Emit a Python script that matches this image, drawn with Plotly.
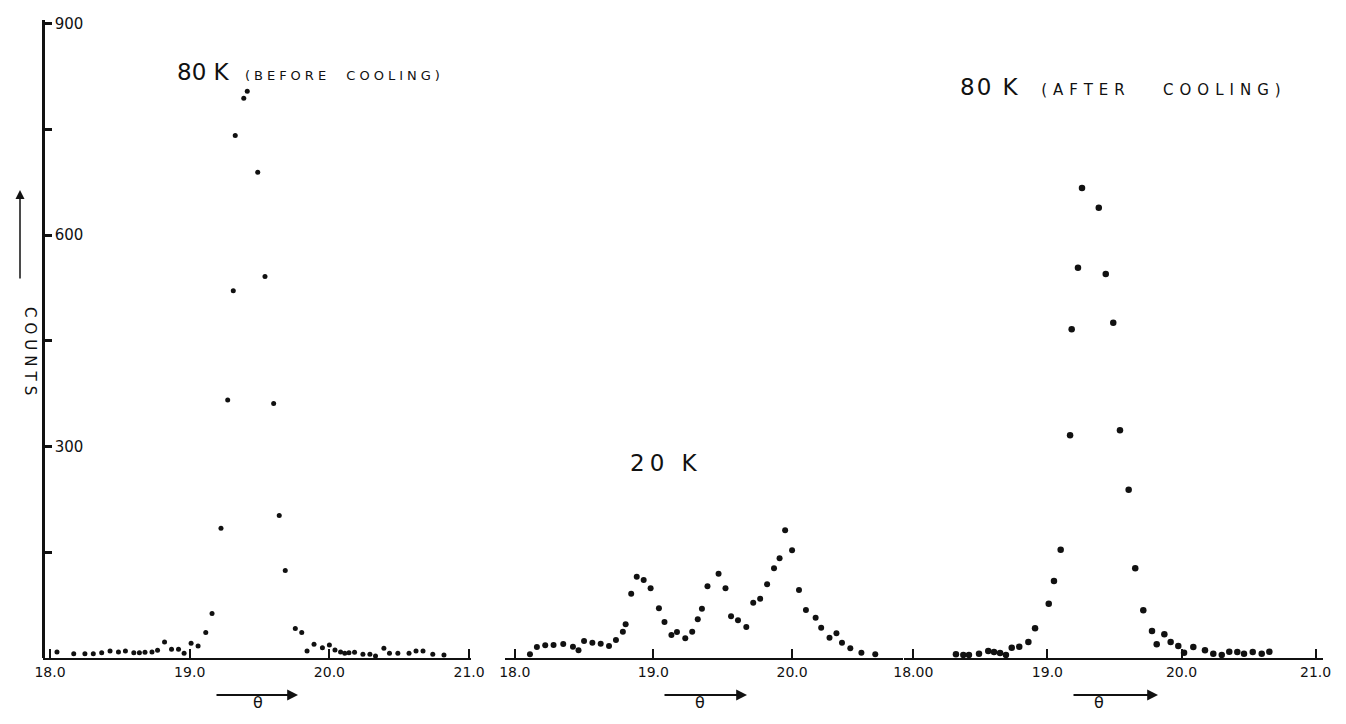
import plotly.graph_objects as go

# ---------------- data ----------------
theta_80k_before = [18.05, 18.17, 18.25, 18.31, 18.37, 18.43, 18.49, 18.54, 18.60, 18.64,
                    18.68, 18.73, 18.77, 18.82, 18.87, 18.92, 18.96, 19.01, 19.06,
                    19.115, 19.16, 19.224, 19.272, 19.312, 19.326, 19.387, 19.412, 19.487,
                    19.539, 19.601, 19.641, 19.684, 19.756, 19.802,
                    19.84, 19.89, 19.95, 20.00, 20.04, 20.08, 20.11, 20.14, 20.18, 20.24,
                    20.29, 20.33, 20.39, 20.43, 20.49, 20.57, 20.62, 20.67, 20.74, 20.82]
counts_80k_before = [8.5, 6.1, 6.1, 6.1, 7.6, 9.9, 8.5, 9.9, 7.6, 7.6,
                     8.0, 8.5, 10.9, 22.7, 12.3, 12.3, 6.6, 20.8, 17.0,
                     36, 63, 184, 366, 521, 741, 794, 804, 689,
                     541, 361, 202, 124, 42, 36,
                     9.9, 19.4, 14.6, 18.4, 11.3, 8.5, 6.6, 7.6, 8.0, 5.2,
                     5.2, 2.8, 13.7, 6.6, 6.6, 6.6, 9.9, 9.9, 5.2, 4.3]

theta_20k = [18.11, 18.16, 18.22, 18.28, 18.35, 18.42, 18.46, 18.50, 18.56, 18.62,
             18.68, 18.73, 18.78, 18.80, 18.84, 18.88, 18.93, 18.98, 19.04, 19.08,
             19.13, 19.17, 19.23, 19.28, 19.32, 19.35, 19.39, 19.47, 19.52, 19.56,
             19.61, 19.67, 19.72, 19.77, 19.82, 19.87, 19.91, 19.95, 20.00, 20.05,
             20.10, 20.17, 20.21, 20.27, 20.32, 20.36, 20.42, 20.50, 20.60]
counts_20k = [5.2, 15.6, 18.0, 18.4, 19.9, 16.1, 10.9, 24.1, 21.7, 20.3,
              17.0, 25.5, 37.4, 47.8, 91.3, 115.4, 110.6, 98.8, 70.4, 51.1,
              32.6, 36.9, 27.9, 37.4, 54.8, 70.0, 101.7, 119.6, 98.8, 59.1,
              53.4, 44.0, 78.5, 84.2, 104.5, 127.2, 141.4, 181.1, 152.7, 96.5,
              68.1, 57.2, 43.0, 28.8, 35.0, 21.7, 13.7, 7.6, 5.2]

theta_80k_after = [18.318, 18.373, 18.415, 18.490, 18.559, 18.602, 18.647, 18.691, 18.734,
                   18.790, 18.858, 18.908, 19.010, 19.049, 19.099, 19.169, 19.181, 19.228,
                   19.258, 19.383, 19.435, 19.491, 19.541, 19.606, 19.655, 19.715, 19.780,
                   19.815, 19.872, 19.919, 19.976, 20.019, 20.088, 20.175, 20.237, 20.300,
                   20.356, 20.416, 20.466, 20.531, 20.598, 20.655]
counts_80k_after = [5.2, 4.3, 4.3, 6.1, 9.9, 8.5, 7.1, 4.3, 14.6,
                    16.0, 22.7, 42.1, 77, 109.2, 153.6, 315.9, 466.2, 553.6,
                    666.7, 638.7, 544.7, 475.6, 323, 238.7, 127.2, 67.7, 38.3,
                    19.4, 33.6, 22.7, 17.0, 7.5, 15.6, 10.9, 6.1, 4.3,
                    8.9, 8.5, 6.1, 8.5, 6.1, 8.9]

y_tick_vals = [150, 300, 450, 600, 750, 900]
y_tick_text = ["", "300", "", "600", "", "900"]
x1_tick_vals = [18, 19, 20, 21]
x1_tick_text = ["18.0", "19.0", "20.0", "21.0"]
x2_tick_vals = [18, 19, 20]
x2_tick_text = ["18.0", "19.0", "20.0"]
x3_tick_vals = [18, 19, 20, 21]
x3_tick_text = ["18.00", "19.0", "20.0", "21.0"]

panel_labels = [
    "80 K<span style='font-size:13px;letter-spacing:4px'>&nbsp;&nbsp;(BEFORE&nbsp; COOLING)</span>",
    "<span style='letter-spacing:5px'>20 K</span>",
    "<span style='letter-spacing:2px'>80 K</span><span style='font-size:15px;letter-spacing:6px'>&nbsp;&nbsp;(AFTER&nbsp;&nbsp; COOLING)</span>",
]
y_label = "<span style='letter-spacing:5px'>COUNTS</span>"
x_label = "θ"

# ---------------- figure ----------------
# page has an 8px body margin: figure is drawn 8px in from the top-left
OFF = 8
W, H = 1338, 716
FONT = "DejaVu Sans"
ink = "#111111"


def px(v):
    return (v - OFF) / W


def py(v):
    return (H - (v - OFF)) / H


fig = go.Figure()
fig.add_trace(go.Scatter(x=theta_80k_before, y=counts_80k_before, mode="markers",
                         marker=dict(color=ink, size=5), xaxis="x", yaxis="y",
                         showlegend=False))
fig.add_trace(go.Scatter(x=theta_20k, y=counts_20k, mode="markers",
                         marker=dict(color=ink, size=6), xaxis="x2", yaxis="y",
                         showlegend=False))
fig.add_trace(go.Scatter(x=theta_80k_after, y=counts_80k_after, mode="markers",
                         marker=dict(color=ink, size=6.5), xaxis="x3", yaxis="y",
                         showlegend=False))

xcommon = dict(showgrid=False, zeroline=False, showline=True, linecolor=ink, linewidth=2,
               ticks="inside", ticklen=9, tickwidth=1.5, tickcolor=ink, automargin=False,
               tickfont=dict(family=FONT, size=14, color=ink), anchor="y")

fig.update_layout(
    template="none",
    width=W, height=H,
    margin=dict(l=0, r=0, t=0, b=0, pad=0, autoexpand=False),
    paper_bgcolor="white", plot_bgcolor="white",
    font=dict(family=FONT, color=ink),
    xaxis=dict(domain=[px(43), px(470.5)], range=[17.95, 21.01],
               tickvals=x1_tick_vals, ticktext=x1_tick_text, **xcommon),
    xaxis2=dict(domain=[px(505), px(903)], range=[17.93, 20.80],
                tickvals=x2_tick_vals, ticktext=x2_tick_text, **xcommon),
    xaxis3=dict(domain=[px(903.5), px(1323)], range=[17.927, 21.055],
                tickvals=x3_tick_vals, ticktext=x3_tick_text, **xcommon),
    yaxis=dict(domain=[py(658), py(20)], range=[0, 905], anchor="free", position=px(43),
               side="right", automargin=False,
               showgrid=False, zeroline=False, showline=True, linecolor=ink, linewidth=2.5,
               ticks="outside", ticklen=7, tickwidth=2.5, tickcolor=ink,
               tickvals=y_tick_vals, ticktext=y_tick_text,
               tickfont=dict(family=FONT, size=15, color=ink)),
)

# panel labels
fig.add_annotation(x=px(175), y=py(57), xref="paper", yref="paper", xanchor="left",
                   text=panel_labels[0], showarrow=False,
                   font=dict(family=FONT, size=23, color=ink))
fig.add_annotation(x=px(628), y=py(463), xref="paper", yref="paper", xanchor="left",
                   text=panel_labels[1], showarrow=False,
                   font=dict(family=FONT, size=23, color=ink))
fig.add_annotation(x=px(958), y=py(72), xref="paper", yref="paper", xanchor="left",
                   text=panel_labels[2], showarrow=False,
                   font=dict(family=FONT, size=23, color=ink))

# y label with arrow
fig.add_annotation(x=px(19), y=py(353), xref="paper", yref="paper",
                   text=y_label, textangle=90, showarrow=False,
                   font=dict(family=FONT, size=15, color=ink))
fig.add_annotation(x=px(20), y=py(190), xref="paper", yref="paper", text="",
                   showarrow=True, ax=0, ay=90, arrowhead=2, arrowsize=1.2,
                   arrowwidth=1.5, arrowcolor=ink)

# theta labels with arrows under each panel
for head_x, tail_len, th_x in [(298, 83, 251), (747, 84, 700), (1158, 86, 1106)]:
    fig.add_annotation(x=px(head_x), y=py(695), xref="paper", yref="paper", text="",
                       showarrow=True, ax=-tail_len, ay=0, arrowhead=2, arrowsize=1.2,
                       arrowwidth=1.8, arrowcolor=ink)
    fig.add_annotation(x=px(th_x), y=py(714), xref="paper", yref="paper",
                       text=x_label, showarrow=False,
                       font=dict(family=FONT, size=16, color=ink))

fig.write_html("out.html")
